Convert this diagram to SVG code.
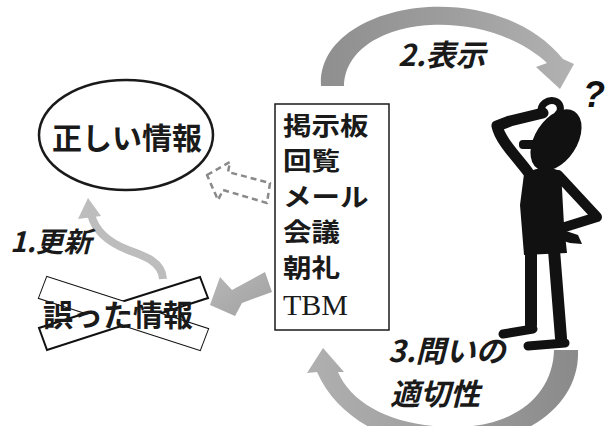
<svg xmlns="http://www.w3.org/2000/svg" width="611" height="426" viewBox="0 0 611 426">
  <defs>
    <linearGradient id="gTop" x1="0" y1="0" x2="1" y2="0">
      <stop offset="0" stop-color="#8f8f8f"/>
      <stop offset="0.5" stop-color="#9d9d9d"/>
      <stop offset="1" stop-color="#b2b2b2"/>
    </linearGradient>
    <linearGradient id="gBottom" x1="0" y1="0" x2="1" y2="0">
      <stop offset="0" stop-color="#b0b0b0"/>
      <stop offset="0.6" stop-color="#9a9a9a"/>
      <stop offset="1" stop-color="#8a8a8a"/>
    </linearGradient>
    <linearGradient id="gBig" x1="0" y1="0" x2="1" y2="1">
      <stop offset="0" stop-color="#b8b8b8"/>
      <stop offset="1" stop-color="#a0a0a0"/>
    </linearGradient>
    <style>
      .jp { font-family: "Noto Sans CJK JP", "Noto Sans", sans-serif; font-weight: bold; fill: #1a1a1a; }
      .step { font-family: "Noto Sans CJK JP", "Noto Sans", sans-serif; font-weight: bold; font-style: italic; fill: #1a1a1a; }
      .ink { fill: #111; }
    </style>
  </defs>
  <rect width="611" height="426" fill="#fff"/>

  <!-- connectors -->
  <g id="connectors">
    <!-- 2. display: arc from the board to the person -->
    <path fill="url(#gTop)" d="M 321 86 C 316 2 492 -28 563 59 L 574 64 L 560 89 L 536 67 L 547 63 C 480 2 346 17 344 86 Z"/>
    <!-- 3. question: arc from the person back to the board -->
    <path fill="url(#gBottom)" d="M 578 350 C 580 400 535 441 455 447 C 395 449 338 420 317 372 L 307 373 L 323 348 L 344 372 L 338 372 C 352 405 395 427 455 427 C 515 427 553 395 554 350 Z"/>
    <!-- 1. update: thin curved arrow -->
    <path d="M 163 279 C 162 262 145 256 128 250 C 110 243 95 232 91 214" fill="none" stroke="#bdbdbd" stroke-width="8"/>
    <polygon points="88,198 78,219 101,216" fill="#bdbdbd"/>
    <!-- board feeds wrong information -->
    <polygon points="210,305 220,277 232,290 265,272 272,292 242,303 235,316" fill="url(#gBig)"/>
    <!-- board should feed correct information (not happening) -->
    <polygon points="207,175 230,162 228,172 270,183 267,203 223,190 218,200" fill="none" stroke="#8a8a8a" stroke-width="2.5" stroke-dasharray="6 4" stroke-linejoin="round"/>
  </g>

  <!-- correct information -->
  <g id="correct-info">
    <ellipse cx="126" cy="135" rx="87" ry="55" fill="#fff" stroke="#1a1a1a" stroke-width="2.5"/>
    <text class="jp" x="52" y="149" font-size="30">正しい情報</text>
  </g>

  <!-- wrong information, crossed out -->
  <g id="wrong-info">
    <polygon points="47,277 39,298 200,350 208,329" fill="#fff" stroke="#111" stroke-width="2"/>
    <polygon points="39,328 47,350 208,298 200,277" fill="#fff" stroke="#111" stroke-width="2"/>
    <polygon points="47,277 39,298 200,350 208,329" fill="#fff"/>
    <text class="jp" x="43" y="326" font-size="30">誤った情報</text>
  </g>

  <!-- information channels -->
  <g id="channels">
    <rect x="275" y="104" width="114" height="226" fill="#fff" stroke="#1a1a1a" stroke-width="1.5"/>
    <g transform="translate(283 0) scale(1.12 1)">
      <text class="jp" font-size="25.5">
        <tspan x="0" y="135">掲示板</tspan>
        <tspan x="0" y="170.5">回覧</tspan>
        <tspan x="0" y="206">メール</tspan>
        <tspan x="0" y="241.5">会議</tspan>
        <tspan x="0" y="277">朝礼</tspan>
      </text>
    </g>
    <text x="283" y="315" font-size="30" font-family="'Liberation Serif', serif" fill="#1a1a1a">TBM</text>
  </g>

  <!-- step labels -->
  <g id="labels">
    <text class="step" x="10" y="252" font-size="28">1.更新</text>
    <text class="step" x="398" y="66" font-size="30">2.表示</text>
    <text class="step" font-size="30">
      <tspan x="388" y="362">3.問いの</tspan>
      <tspan x="390" y="405">適切性</tspan>
    </text>
  </g>

  <!-- puzzled person -->
  <g id="person" class="ink">
    <text x="583" y="107" font-size="36" font-weight="bold" font-style="italic" font-family="'Liberation Sans', sans-serif" fill="#111">?</text>
    <ellipse cx="556" cy="140" rx="21" ry="34" transform="rotate(33 556 140)"/>
    <rect x="519" y="140" width="23" height="9" rx="4"/>
    <!-- raised arm -->
    <path d="M 528 172 C 515 155 500 140 497 126 L 510 121 L 543 113" fill="none" stroke="#111" stroke-width="11" stroke-linejoin="round" stroke-linecap="round"/>
    <path d="M 541 113 C 540 104 548 99 555 101 C 561 103 562 110 558 114" fill="none" stroke="#111" stroke-width="7" stroke-linecap="round"/>
    <!-- torso -->
    <path d="M 524 174 Q 542 164 561 171 L 564 225 L 567 253 L 524 255 L 520 205 Z"/>
    <!-- arm on hip -->
    <path d="M 558 175 L 597 217 L 565 227" fill="none" stroke="#111" stroke-width="10" stroke-linejoin="round" stroke-linecap="round"/>
    <path d="M 560 229 L 578 235 L 582 244 L 570 243 L 560 240 Z"/>
    <!-- legs and feet -->
    <path d="M 531 250 L 531 325" fill="none" stroke="#111" stroke-width="12" stroke-linecap="round"/>
    <path d="M 533 329 L 503 334" fill="none" stroke="#111" stroke-width="9" stroke-linecap="round"/>
    <path d="M 554 250 L 561 338" fill="none" stroke="#111" stroke-width="12" stroke-linecap="round"/>
    <path d="M 565 343 L 528 346" fill="none" stroke="#111" stroke-width="9" stroke-linecap="round"/>
  </g>
</svg>
